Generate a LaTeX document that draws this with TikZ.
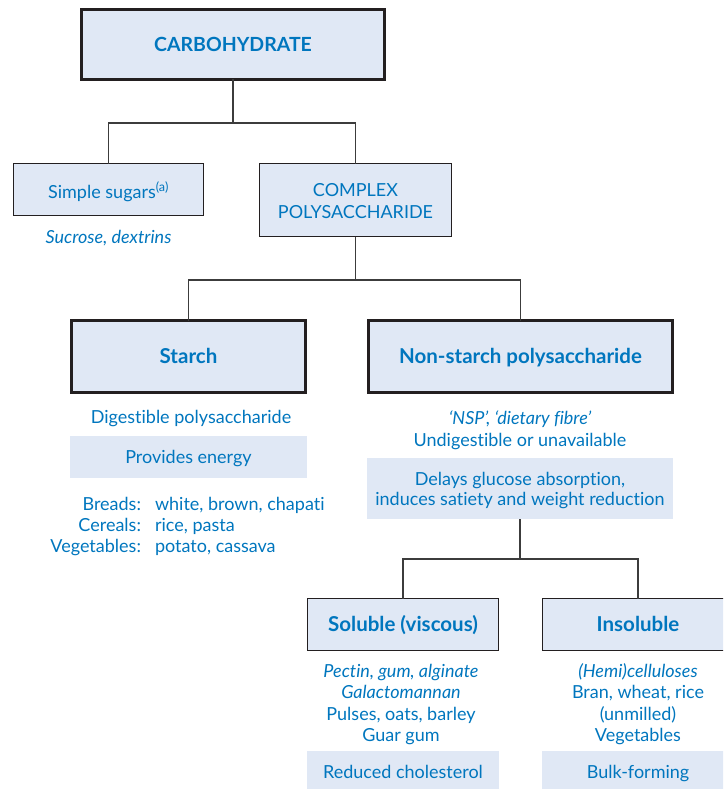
\documentclass[tikz,border=0pt]{standalone}
\usepackage{fontspec}
\setmainfont{Lato}[Ligatures=NoCommon]
\definecolor{inkblue}{RGB}{0,118,190}
\definecolor{boxfill}{RGB}{224,232,245}
\definecolor{rulecol}{RGB}{35,31,32}
\definecolor{wirecol}{RGB}{60,60,60}
\begin{document}
\begin{tikzpicture}[x=1pt,y=-1pt,
  every node/.style={inner sep=0pt, outer sep=0pt},
  heavybox/.style={draw=rulecol, line width=3pt, fill=boxfill, rectangle},
  thinbox/.style={draw=rulecol, line width=1.3pt, fill=boxfill, rectangle},
  flatbox/.style={fill=boxfill, rectangle},
  bodytxt/.style={anchor=base, text=inkblue, font=\fontsize{18}{21}\selectfont},
  slanttxt/.style={bodytxt, font=\fontsize{18}{21}\selectfont\itshape},
  headtxt/.style={anchor=base, text=inkblue, font=\fontsize{20.5}{24}\selectfont\bfseries},
  link/.style={draw=wirecol, line width=1.3pt}
]
\useasboundingbox (0,0) rectangle (723,789);
\clip (0,0) rectangle (723,789);

% ---------- boxes ----------
\node[heavybox, minimum width=303pt, minimum height=70pt] (carb) at (233,44.5) {};
\node[thinbox, minimum width=190pt, minimum height=52pt] (simple) at (108.5,189.5) {};
\node[thinbox, minimum width=192pt, minimum height=73pt] (complex) at (355.5,200) {};
\node[heavybox, minimum width=234pt, minimum height=72pt] (starch) at (188.5,356.5) {};
\node[heavybox, minimum width=304pt, minimum height=72pt] (nsp) at (520.5,356.5) {};
\node[flatbox, minimum width=237pt, minimum height=42pt] (energy) at (188.5,457) {};
\node[flatbox, minimum width=306pt, minimum height=61pt] (delays) at (520,488.5) {};
\node[thinbox, minimum width=191pt, minimum height=52pt] (soluble) at (403,624.5) {};
\node[thinbox, minimum width=191pt, minimum height=52pt] (insoluble) at (638,624.5) {};
\node[flatbox, minimum width=192pt, minimum height=44pt] (cholest) at (403,773) {};
\node[flatbox, minimum width=192pt, minimum height=44pt] (bulk) at (638,773) {};

% ---------- connectors ----------
\coordinate (j1) at (233,123);
\coordinate (j2) at (355.5,280);
\coordinate (j3) at (520,559);
\draw[link] (carb.south) -- (j1);
\draw[link] (j1) -| (simple.north);
\draw[link] (j1) -| (complex.north);
\draw[link] (complex.south) -- (j2);
\draw[link] (j2) -| (starch.north);
\draw[link] (j2) -| (nsp.north);
\draw[link] (delays.south) -- (j3);
\draw[link] (j3) -| (soluble.north);
\draw[link] (j3) -| (insoluble.north);

% ---------- texts ----------
\node[headtxt, font=\fontsize{19.5}{23}\selectfont\bfseries] (tcarb) at (233,51.5) {CARBOHYDRATE};
\node[bodytxt] (tsimple) at (108.5,198) {Simple sugars\textsuperscript{(a)}};
\node[slanttxt] (tsucrose) at (108.5,243) {Sucrose, dextrins};
\node[bodytxt] (tcomplex1) at (355.5,196) {COMPLEX};
\node[bodytxt] (tcomplex2) at (355.5,218) {POLYSACCHARIDE};

\node[headtxt] (tstarch) at (188.5,363) {Starch};
\node[headtxt] (tnsp) at (520.5,363) {Non-starch polysaccharide};

\node[bodytxt] (tdigest) at (191,423) {Digestible polysaccharide};
\node[bodytxt] (tenergy) at (188.5,463) {Provides energy};
\node[bodytxt, anchor=base east] (lbread) at (141,510) {Breads:};
\node[bodytxt, anchor=base west] (vbread) at (155,510) {white, brown, chapati};
\node[bodytxt, anchor=base east] (lcereal) at (141,531) {Cereals:};
\node[bodytxt, anchor=base west] (vcereal) at (155,531) {rice, pasta};
\node[bodytxt, anchor=base east] (lveg) at (141,552) {Vegetables:};
\node[bodytxt, anchor=base west] (vveg) at (155,552) {potato, cassava};

\node[slanttxt] (tnspalias) at (520,424) {`NSP', `dietary fibre'};
\node[bodytxt] (tundig) at (520,446) {Undigestible or unavailable};
\node[bodytxt] (tdelay1) at (520,485) {Delays glucose absorption,};
\node[bodytxt] (tdelay2) at (520,505) {induces satiety and weight reduction};

\node[headtxt] (tsol) at (403,631) {Soluble (viscous)};
\node[headtxt] (tinsol) at (638,631) {Insoluble};

\node[slanttxt] (tpectin) at (401,677) {Pectin, gum, alginate};
\node[slanttxt] (tgalacto) at (401,698) {Galactomannan};
\node[bodytxt] (tpulses) at (401,720) {Pulses, oats, barley};
\node[bodytxt] (tguar) at (401,741) {Guar gum};
\node[bodytxt] (tcholest) at (403,778) {Reduced cholesterol};

\node[slanttxt] (themi) at (638,677) {(Hemi)celluloses};
\node[bodytxt] (tbran) at (638,698) {Bran, wheat, rice};
\node[bodytxt] (tunmill) at (638,720) {(unmilled)};
\node[bodytxt] (tvegins) at (638,741) {Vegetables};
\node[bodytxt] (tbulk) at (638,778) {Bulk-forming};
\end{tikzpicture}
\end{document}
